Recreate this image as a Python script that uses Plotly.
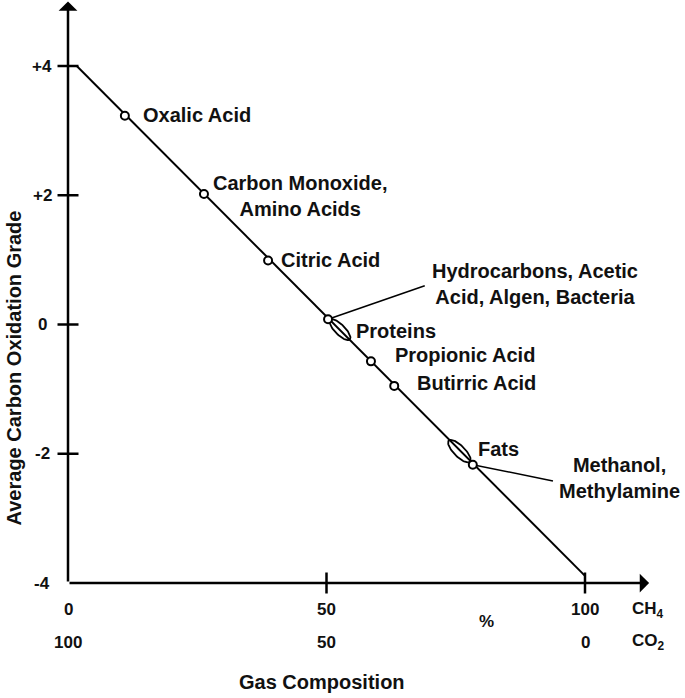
import numpy as np
import plotly.graph_objects as go

# ---- data ----
ch4_ticks = [0, 50, 100]
ch4_labels = ['0', '50', '100']
co2_labels = ['100', '50', '0']
y_ticks = [4, 2, 0, -2, -4]
y_tick_labels = ['+4', '+2', '0', '-2', '-4']
y_tick_marks = [4, 2, 0, -2]
x_tick_marks = [50, 100]

# oxidation line (CH4 share vs. average carbon oxidation grade)
line_x = [1.7, 100]
line_y = [4.0, -3.89]

compound_names = ['Oxalic Acid', 'Carbon Monoxide, Amino Acids', 'Citric Acid',
                  'Hydrocarbons, Acetic Acid, Algen, Bacteria', 'Propionic Acid',
                  'Butirric Acid', 'Methanol, Methylamine']
compound_x = [11.0, 26.3, 38.7, 50.3, 58.6, 63.1, 78.3]
compound_y = [3.23, 2.02, 0.99, 0.08, -0.57, -0.95, -2.17]

# substance groups drawn as ellipses along the line
group_names = ['Proteins', 'Fats']
group_x = [52.6, 75.7]
group_y = [-0.08, -1.96]

FONT = 'Liberation Sans, Arial, sans-serif'
W, H = 685, 698
M = dict(l=68, r=100, t=66, b=115)
PX_X = (W - M['l'] - M['r']) / 100.0
PX_Y = (H - M['t'] - M['b']) / 8.0

fig = go.Figure()

# main line
fig.add_trace(go.Scatter(x=line_x, y=line_y, mode='lines',
                         line=dict(color='black', width=2), cliponaxis=False))


def ellipse(cx, cy, a, b, ang=45):
    t = np.linspace(0, 2 * np.pi, 80)
    u, v = a * np.cos(t), b * np.sin(t)
    r = np.radians(ang)
    dx = u * np.cos(r) - v * np.sin(r)
    dy = u * np.sin(r) + v * np.cos(r)
    return cx + dx / PX_X, cy - dy / PX_Y


for gx, gy, a, b in zip(group_x, group_y, [14, 15], [5, 5.5]):
    ex, ey = ellipse(gx, gy, a, b)
    fig.add_trace(go.Scatter(x=ex, y=ey, mode='lines',
                             line=dict(color='black', width=1.8), cliponaxis=False))

# leader lines for the two labels placed off the line
leaders = [([compound_x[3], 69.0], [compound_y[3], 0.60]),
           ([compound_x[6], 93.8], [compound_y[6], -2.42])]
for lx, ly in leaders:
    fig.add_trace(go.Scatter(x=lx, y=ly, mode='lines',
                             line=dict(color='black', width=1.5), cliponaxis=False))

# compound markers
fig.add_trace(go.Scatter(x=compound_x, y=compound_y, mode='markers',
                         marker=dict(symbol='circle', size=8, color='white',
                                     line=dict(color='black', width=2)),
                         cliponaxis=False))

# tick marks crossing the axes
fig.add_trace(go.Scatter(x=[0] * len(y_tick_marks), y=y_tick_marks, mode='markers',
                         marker=dict(symbol='line-ew', size=15,
                                     line=dict(color='black', width=2.5)),
                         cliponaxis=False))
fig.add_trace(go.Scatter(x=x_tick_marks, y=[-4] * len(x_tick_marks), mode='markers',
                         marker=dict(symbol='line-ns', size=15,
                                     line=dict(color='black', width=2.5)),
                         cliponaxis=False))

ann = []
txt = dict(family=FONT, size=20, color='#111111', weight='bold')
tick_font = dict(family=FONT, size=17, color='#111111', weight='bold')

# axes with arrows
arrow = dict(text='', showarrow=True, arrowhead=1, arrowsize=1.25, arrowwidth=2.5,
             arrowcolor='black', axref='x', ayref='y', xref='x', yref='y', standoff=0)
ann.append(dict(arrow, x=112.4, y=-4, ax=0, ay=-4))
ann.append(dict(arrow, x=0, y=5.0, ax=0, ay=-4))

# y tick labels
for v, lab in zip(y_ticks, y_tick_labels):
    ann.append(dict(x=0, y=v, xref='x', yref='y', text=lab, showarrow=False,
                    xanchor='center', yanchor='middle', xshift=-26, font=tick_font))

# two rows of x tick labels
for v, l1, l2 in zip(ch4_ticks, ch4_labels, co2_labels):
    ann.append(dict(x=v, y=-4, xref='x', yref='y', text=l1, showarrow=False,
                    xanchor='center', yanchor='middle', yshift=-26, font=tick_font))
    ann.append(dict(x=v, y=-4, xref='x', yref='y', text=l2, showarrow=False,
                    xanchor='center', yanchor='middle', yshift=-59, font=tick_font))
ann.append(dict(x=100, y=-4, xref='x', yref='y', text='CH<sub>4</sub>', showarrow=False,
                xanchor='center', yanchor='middle', xshift=63, yshift=-27, font=tick_font))
ann.append(dict(x=100, y=-4, xref='x', yref='y', text='CO<sub>2</sub>', showarrow=False,
                xanchor='center', yanchor='middle', xshift=63, yshift=-59, font=tick_font))
ann.append(dict(x=81, y=-4, xref='x', yref='y', text='%', showarrow=False,
                xanchor='center', yanchor='middle', yshift=-38, font=tick_font))

# axis titles
ann.append(dict(x=49.2, y=-4, xref='x', yref='y', text='Gas Composition', showarrow=False,
                xanchor='center', yanchor='middle', yshift=-99, font=txt))
ann.append(dict(x=0, y=-0.68, xref='x', yref='y', text='Average Carbon Oxidation Grade',
                showarrow=False, textangle=-90, xanchor='center', yanchor='middle',
                xshift=-54, font=txt))

# compound / group labels: (text, x, y, anchor, xshift)
labels = [
    ('Oxalic Acid', 14.1, 3.24, 'left', 0),
    ('Carbon Monoxide,<br>Amino Acids', 44.8, 1.99, 'center', 0),
    ('Citric Acid', 40.8, 1.0, 'left', 0),
    ('Hydrocarbons, Acetic<br>Acid, Algen, Bacteria', 90.3, 0.63, 'center', 0),
    ('Proteins', 55.3, -0.10, 'left', 0),
    ('Propionic Acid', 62.9, -0.475, 'left', 0),
    ('Butirric Acid', 67.1, -0.91, 'left', 0),
    ('Fats', 78.9, -1.92, 'left', 0),
    ('Methanol,<br>Methylamine', 100, -2.38, 'center', 34),
]
for t, x, y, anc, xs in labels:
    ann.append(dict(x=x, y=y, xref='x', yref='y', text=t, showarrow=False,
                    xanchor=anc, yanchor='middle', align='center', xshift=xs, font=txt))

fig.update_layout(
    width=W, height=H, autosize=False,
    margin=M,
    plot_bgcolor='white', paper_bgcolor='white',
    showlegend=False,
    xaxis=dict(range=[0, 100], visible=False, fixedrange=True),
    yaxis=dict(range=[-4, 4], visible=False, fixedrange=True),
    annotations=ann,
    font=dict(family=FONT),
)

# drop the default page margin so the figure fills the window
fig.write_html('out.html', config={'displayModeBar': False},
               post_script="document.body.style.margin='0';")
